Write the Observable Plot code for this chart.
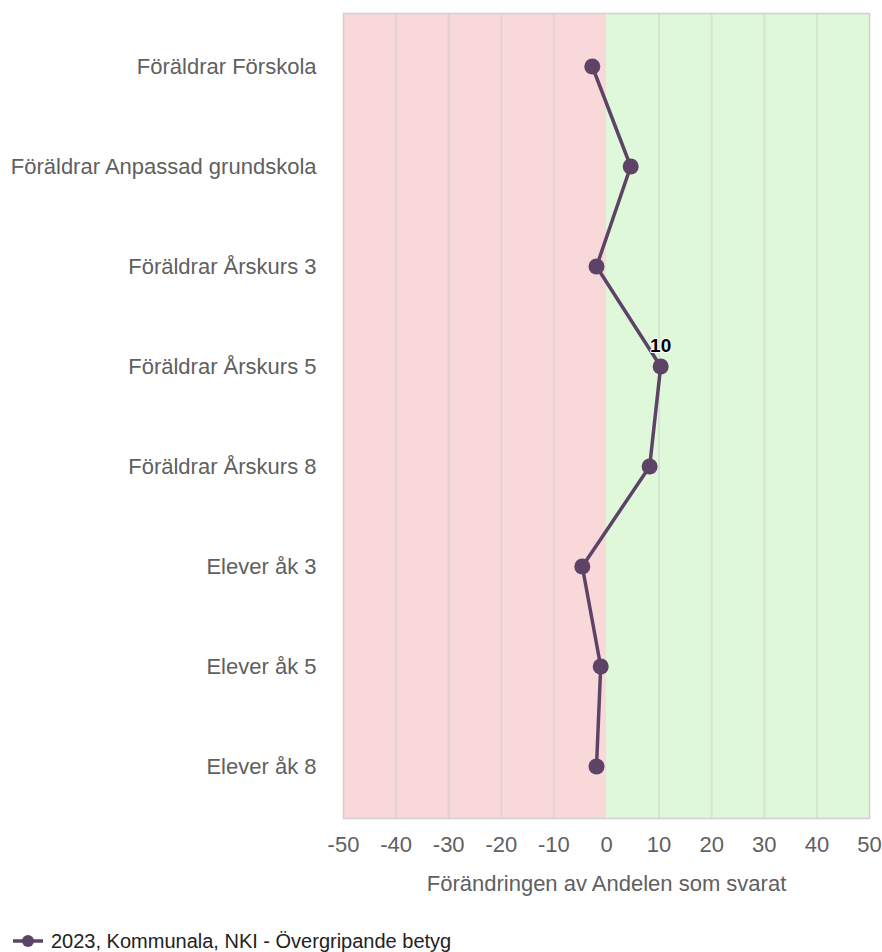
<!DOCTYPE html>
<html>
<head>
<meta charset="utf-8">
<script src="https://cdn.jsdelivr.net/npm/d3@7"></script>
<script src="https://cdn.jsdelivr.net/npm/@observablehq/plot@0.6"></script>
<style>
  body { margin: 0; background: #fff; font-family: "Liberation Sans", Arial, sans-serif; }
  #legend { display: flex; align-items: center; height: 30px; margin-top: 20px; padding-left: 13px; font-size: 20px; color: #222; }
  #legend svg { margin-right: 8px; }
</style>
</head>
<body>
<div id="chart"></div>
<div id="legend"></div>
<script>
const categories = [
  "Föräldrar Förskola",
  "Föräldrar Anpassad grundskola",
  "Föräldrar Årskurs 3",
  "Föräldrar Årskurs 5",
  "Föräldrar Årskurs 8",
  "Elever åk 3",
  "Elever åk 5",
  "Elever åk 8"
];
const values = [-2.7, 4.6, -1.9, 10.3, 8.2, -4.6, -1.1, -1.9];
const xTicks = [-50, -40, -30, -20, -10, 0, 10, 20, 30, 40, 50];
const seriesName = "2023, Kommunala, NKI - Övergripande betyg";
const axisTitle = "Förändringen av Andelen som svarat";
const bands = [
  {from: -50, to: 0, fill: "#f8d8d9"},
  {from: 0, to: 50, fill: "#def8d9"}
];

const data = categories.map((c, i) => ({cat: c, v: values[i]}));
const lineColor = "#5d4467";

const chart = Plot.plot({
  width: 882,
  height: 906,
  marginTop: 13,
  marginBottom: 88,
  marginLeft: 343,
  marginRight: 13,
  style: {fontFamily: "'Liberation Sans', Arial, sans-serif", fontSize: "22px", background: "transparent"},
  x: {domain: [-50, 50], ticks: xTicks},
  y: {type: "point", domain: categories, padding: 0.5},
  marks: [
    Plot.rect(bands, {x1: "from", x2: "to", fill: "fill"}),
    Plot.gridX(xTicks.filter(t => t > -50 && t < 50 && t !== 0), {stroke: "#c8c8c8", strokeOpacity: 0.4, strokeWidth: 2}),
    Plot.frame({stroke: "#d0d0d0", strokeWidth: 1.5}),
    Plot.axisX(xTicks, {tickSize: 0, tickPadding: 18, fontSize: 22, fill: "#606060", tickFormat: d => String(d), label: axisTitle, labelAnchor: "center", labelArrow: "none", labelOffset: 72}),
    Plot.axisY({tickSize: 0, tickPadding: 27, fontSize: 22, fill: "#606060", label: null}),
    Plot.line(data, {x: "v", y: "cat", stroke: lineColor, strokeWidth: 3.5}),
    Plot.dot(data, {x: "v", y: "cat", r: 8, fill: lineColor}),
    Plot.text(data.filter(d => Math.abs(d.v) >= 10), {x: "v", y: "cat", text: d => String(Math.round(d.v)), dy: -21, fontSize: 19, fontWeight: "bold", fill: "#000", stroke: "white", strokeWidth: 2})
  ]
});
document.getElementById("chart").appendChild(chart);

const legend = document.getElementById("legend");
legend.innerHTML = `<svg width="30" height="14"><line x1="0" y1="7" x2="30" y2="7" stroke="${lineColor}" stroke-width="3.5"/><circle cx="15" cy="7" r="6" fill="${lineColor}"/></svg><span>${seriesName}</span>`;
</script>
</body>
</html>
